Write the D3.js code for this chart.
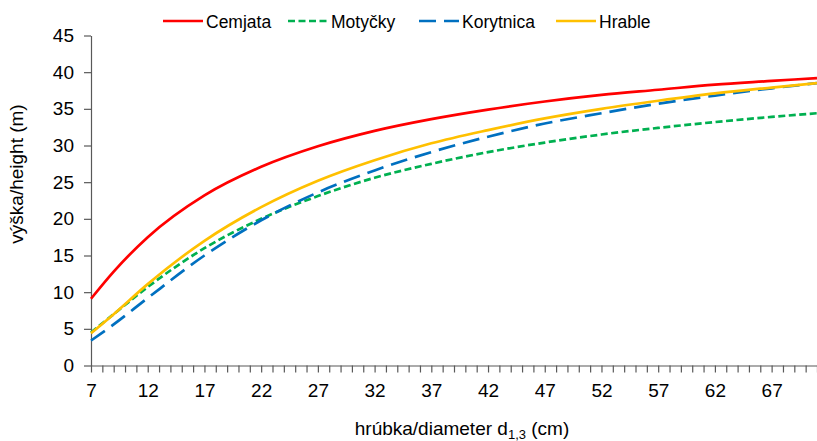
<!DOCTYPE html>
<html>
<head>
<meta charset="utf-8">
<script src="https://cdn.jsdelivr.net/npm/d3@7"></script>
<style>
  body { margin: 0; background: #fff; }
  svg { display: block; font-family: Arial, 'Liberation Sans', sans-serif; }
</style>
</head>
<body>
<svg id="chart" width="817" height="441"></svg>
<script>
const diameters = [7, 9, 12, 17, 22, 27, 32, 37, 42, 47, 52, 57, 62, 67, 71]

const cemjata = [9.1, 12.8, 17.5, 23.2, 27.1, 29.9, 32.0, 33.6, 34.9, 36.0, 36.9, 37.6, 38.3, 38.8, 39.2]
const motycky = [4.5, 7.0, 10.7, 16.0, 20.0, 23.1, 25.6, 27.5, 29.1, 30.4, 31.5, 32.4, 33.2, 33.9, 34.4]
const korytnica = [3.4, 5.6, 9.2, 15.0, 19.8, 23.6, 26.6, 29.1, 31.2, 33.0, 34.4, 35.7, 36.8, 37.8, 38.5]
const hrable = [4.4, 7.0, 11.1, 17.0, 21.6, 25.2, 28.0, 30.3, 32.1, 33.7, 35.0, 36.1, 37.1, 37.9, 38.5]

const xTickLabels = [7, 12, 17, 22, 27, 32, 37, 42, 47, 52, 57, 62, 67]
const yTicks = [0, 5, 10, 15, 20, 25, 30, 35, 40, 45]

const series = [
  { name: 'Cemjata', values: cemjata, color: '#FF0000', dash: null },
  { name: 'Motyčky', values: motycky, color: '#00B050', dash: '7,3.5' },
  { name: 'Korytnica', values: korytnica, color: '#0070C0', dash: '17,8' },
  { name: 'Hrable', values: hrable, color: '#FFC000', dash: null }
]

const svg = d3.select('#chart')

const x = d3.scaleLinear().domain([7, 71]).range([91, 817])
const y = d3.scaleLinear().domain([0, 45]).range([365.5, 35.5])

// x axis: a tick at every centimetre, labels every 5
const xAxis = d3.axisBottom(x)
  .tickValues(d3.range(7, 72))
  .tickFormat(d => (xTickLabels.includes(d) ? d : ''))
  .tickSize(7)
  .tickSizeOuter(0)
  .tickPadding(11)

const gx = svg.append('g')
  .attr('transform', `translate(0,${y(0)})`)
  .call(xAxis)

const yAxis = d3.axisLeft(y)
  .tickValues(yTicks)
  .tickSize(7)
  .tickSizeOuter(0)
  .tickPadding(10)

const gy = svg.append('g')
  .attr('transform', `translate(${x(7)},0)`)
  .call(yAxis)

for (const g of [gx, gy]) {
  g.select('.domain').attr('stroke', '#595959').attr('stroke-width', 1.2)
  g.selectAll('.tick line').attr('stroke', '#595959').attr('stroke-width', 1.2)
  g.selectAll('.tick text')
    .attr('fill', '#000')
    .style('font-size', '19px')
}

// curves
const line = d3.line()
  .x((d, i) => x(diameters[i]))
  .y(d => y(d))
  .curve(d3.curveMonotoneX)

svg.append('g')
  .selectAll('path')
  .data(series)
  .join('path')
  .attr('d', d => line(d.values))
  .attr('fill', 'none')
  .attr('stroke', d => d.color)
  .attr('stroke-width', 2.7)
  .attr('stroke-dasharray', d => d.dash)

// legend
const legendX = [163, 288, 419, 556]
const legend = svg.append('g')
  .selectAll('g')
  .data(series)
  .join('g')
  .attr('transform', (d, i) => `translate(${legendX[i]},21)`)

legend.append('line')
  .attr('x1', 0)
  .attr('x2', 40)
  .attr('stroke', d => d.color)
  .attr('stroke-width', 2.7)
  .attr('stroke-dasharray', d => d.dash)

legend.append('text')
  .attr('x', 43)
  .attr('y', 6.5)
  .style('font-size', '17.5px')
  .attr('fill', '#000')
  .text(d => d.name)

// axis titles
svg.append('text')
  .attr('transform', 'translate(23,174) rotate(-90)')
  .attr('text-anchor', 'middle')
  .style('font-size', '19px')
  .text('výška/height (m)')

const xt = svg.append('text')
  .attr('x', 462)
  .attr('y', 435)
  .attr('text-anchor', 'middle')
  .style('font-size', '19px')
xt.append('tspan').text('hrúbka/diameter d')
xt.append('tspan').attr('dy', 3.5).style('font-size', '13px').text('1,3')
xt.append('tspan').attr('dy', -3.5).text(' (cm)')
</script>
</body>
</html>
